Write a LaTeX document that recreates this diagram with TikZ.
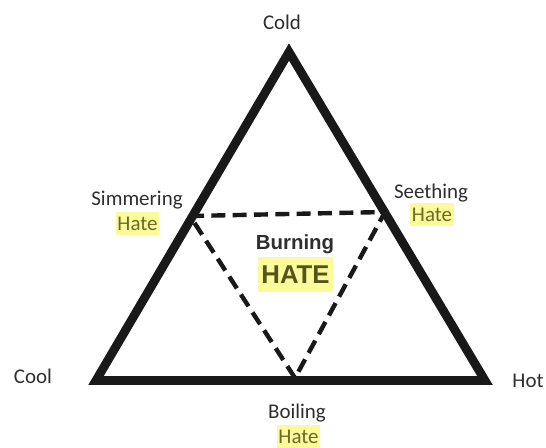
\documentclass[tikz,border=0pt]{standalone}
\usepackage{fontspec}
\setmainfont{Carlito}
\newfontfamily\arialfont{Liberation Sans}
\definecolor{txt}{HTML}{2E2E2E}
\definecolor{hl}{HTML}{FBFB9C}
\definecolor{hltxt}{HTML}{6B6B24}
\definecolor{hatetxt}{HTML}{55551A}
\tikzset{
  lbl/.style={text=txt, font=\fontsize{15.7pt}{18pt}\selectfont, inner sep=0pt},
  hlbox/.style={fill=hl, text=hltxt, font=\fontsize{15.7pt}{18pt}\selectfont, inner sep=0pt, minimum width=32.5pt, minimum height=17.5pt},
  outer/.style={line width=6.6pt, line join=miter, draw=black!90},
  inner/.style={line width=3.3pt, dash pattern=on 10.5pt off 5.5pt, draw=black!90},
}
\begin{document}
\begin{tikzpicture}[x=0.75pt,y=-0.75pt]
\useasboundingbox (0,0) rectangle (546,447);
\coordinate (A) at (289,52);
\coordinate (B) at (96,380.5);
\coordinate (C) at (485,380.5);
\coordinate (P) at (190,216);
\coordinate (Q) at (385,212);
\coordinate (R) at (295,378);
\draw[outer] (A) -- (B) -- (C) -- cycle;
\draw[inner] (P) -- (Q) -- (R) -- cycle;
\node[lbl] (cold) at (282,22) {Cold};
\node[lbl] (cool) at (33,376) {Cool};
\node[lbl] (hot) at (528,381) {Hot};
\node[lbl] (simm) at (137,200) {Simmering};
\node[hlbox] (simmh) at (137.5,223.5) {Hate};
\node[lbl] (seeth) at (431,193) {Seething};
\node[hlbox] (seethh) at (432,214.5) {Hate};
\node[lbl] (boil) at (297,413) {Boiling};
\node[hlbox] (boilh) at (298.5,437) {Hate};
\node[text=txt, font=\arialfont\bfseries\fontsize{15.3pt}{18pt}\selectfont, inner sep=0pt] (burn) at (295,244) {Burning};
\node[fill=hl, text=hatetxt, font=\arialfont\bfseries\fontsize{19.3pt}{22pt}\selectfont, inner sep=0pt, minimum width=56pt, minimum height=26pt] (hate) at (295.5,274.5) {HATE};
\end{tikzpicture}
\end{document}
